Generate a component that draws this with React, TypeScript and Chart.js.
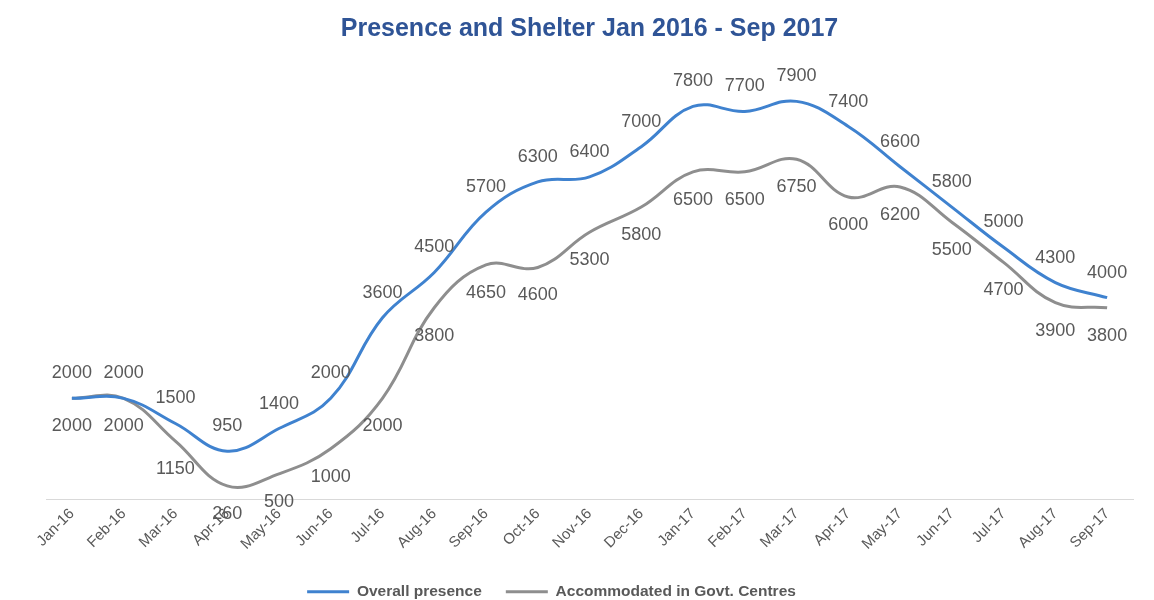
import React, { useEffect, useRef } from "react";
import { Chart, registerables } from "chart.js";

Chart.register(...registerables);

const categories = [
  "Jan-16", "Feb-16", "Mar-16", "Apr-16", "May-16", "Jun-16", "Jul-16",
  "Aug-16", "Sep-16", "Oct-16", "Nov-16", "Dec-16", "Jan-17", "Feb-17",
  "Mar-17", "Apr-17", "May-17", "Jun-17", "Jul-17", "Aug-17", "Sep-17",
];

const overallPresence = [
  2000, 2000, 1500, 950, 1400, 2000, 3600, 4500, 5700, 6300, 6400, 7000,
  7800, 7700, 7900, 7400, 6600, 5800, 5000, 4300, 4000,
];

const accommodated = [
  2000, 2000, 1150, 260, 500, 1000, 2000, 3800, 4650, 4600, 5300, 5800,
  6500, 6500, 6750, 6000, 6200, 5500, 4700, 3900, 3800,
];

const FONT = "'Liberation Sans', Arial, sans-serif";
const BLUE = "#3f82cf";
const GREY = "#8e8e8e";
const TEXT = "#595959";

const dataLabelPlugin = {
  id: "dataLabels",
  afterLayout(chart: any) {
    const lg = chart.legend;
    if (lg) {
      lg.left -= 38;
      lg.right -= 38;
    }
  },
  afterDatasetsDraw(chart: any) {
    const ctx = chart.ctx;
    ctx.save();
    ctx.font = `18px ${FONT}`;
    ctx.fillStyle = TEXT;
    ctx.textAlign = "center";
    ctx.textBaseline = "middle";
    chart.data.datasets.forEach((ds: any, di: number) => {
      const meta = chart.getDatasetMeta(di);
      meta.data.forEach((pt: any, i: number) => {
        const v = ds.data[i];
        const dy = di === 0 ? -25 : 28;
        ctx.fillText(String(v), pt.x, pt.y + dy);
      });
    });
    ctx.restore();
  },
};

export default function App() {
  const ref = useRef<HTMLCanvasElement | null>(null);

  useEffect(() => {
    if (!ref.current) return;
    const chart = new Chart(ref.current, {
      type: "line",
      data: {
        labels: categories,
        datasets: [
          {
            label: "Overall presence",
            data: overallPresence,
            borderColor: BLUE,
            backgroundColor: BLUE,
            borderWidth: 3,
            pointRadius: 0,
            tension: 0.4,
            fill: false,
          },
          {
            label: "Accommodated in Govt. Centres",
            data: accommodated,
            borderColor: GREY,
            backgroundColor: GREY,
            borderWidth: 3,
            pointRadius: 0,
            tension: 0.4,
            fill: false,
          },
        ],
      },
      options: {
        responsive: false,
        animation: false,
        layout: { padding: { left: 46, right: 21, top: 0, bottom: 0 } },
        scales: {
          x: {
            offset: true,
            grid: { display: false },
            border: { display: true, color: "#d9d9d9", width: 1 },
            ticks: {
              color: TEXT,
              font: { family: FONT, size: 15 },
              minRotation: 45,
              maxRotation: 45,
              padding: -2,
              autoSkip: false,
            },
            afterFit(scale: any) {
              scale.height = 61;
            },
          },
          y: {
            display: false,
            min: 0,
            max: 9000,
          },
        },
        plugins: {
          title: {
            display: true,
            text: "Presence and Shelter Jan 2016 - Sep 2017",
            color: "#2f5496",
            font: { family: FONT, size: 25, weight: "bold" },
            padding: { top: 14, bottom: 2 },
          },
          legend: {
            position: "bottom",
            maxHeight: 40,
            labels: {
              color: TEXT,
              font: { family: FONT, size: 15.5, weight: "bold" },
              boxWidth: 42,
              boxHeight: 3,
              padding: 24,
              generateLabels(chart: any) {
                const items = Chart.defaults.plugins.legend.labels.generateLabels(chart);
                items.forEach((it: any) => {
                  it.lineWidth = 0;
                });
                return items;
              },
            },
          },
          tooltip: { enabled: false },
        },
      },
      plugins: [dataLabelPlugin],
    });
    return () => chart.destroy();
  }, []);

  return (
    <div style={{ position: "absolute", left: 0, top: 0, width: 1154, height: 600, background: "#fff" }}>
      <canvas ref={ref} width={1154} height={600} style={{ display: "block" }} />
    </div>
  );
}
